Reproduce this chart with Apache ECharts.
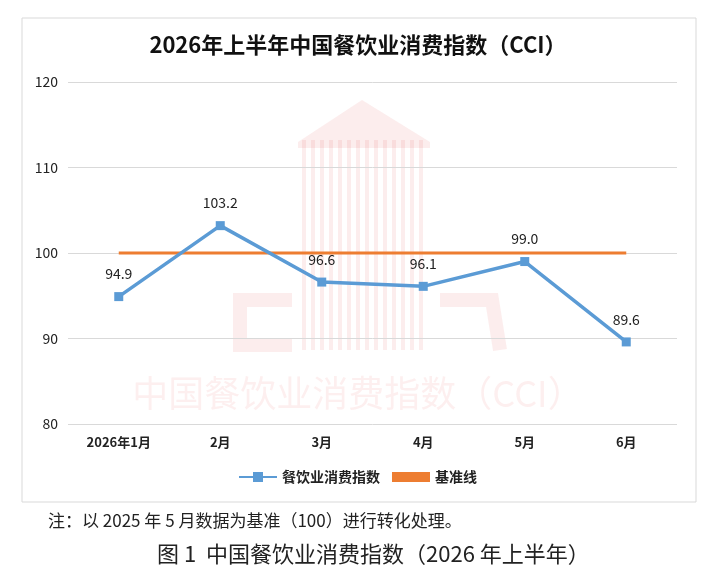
<!DOCTYPE html>
<html>
<head>
  <meta charset="utf-8">
  <title>CCI</title>
  <script src="https://cdn.jsdelivr.net/npm/echarts@6/dist/echarts.min.js"></script>
  <style>
    html, body { margin: 0; padding: 0; background: #fff; }
  </style>
</head>
<body>
  <div id="main" style="width: 716px;height:580px;"></div>
  <script type="text/javascript">
    var months = ['2026年1月', '2月', '3月', '4月', '5月', '6月'];
    var cciValues = [94.9, 103.2, 96.6, 96.1, 99.0, 89.6];
    var baseValues = [100, 100, 100, 100, 100, 100];

    var myChart = echarts.init(document.getElementById('main'));

    var font = '"Noto Sans CJK SC", "Noto Sans", sans-serif';
    var wm = 'rgba(228,80,80,0.10)';

    // 水印：楼形竖条
    var stripes = [];
    for (var i = 0; i < 14; i++) {
      stripes.push({
        type: 'rect',
        shape: { x: 302 + i * 9, y: 140, width: 4, height: 210 },
        style: { fill: wm },
        silent: true,
        z: -1
      });
    }

    var option = {
      backgroundColor: '#fff',
      animation: false,
      textStyle: { fontFamily: font },
      title: {
        text: '2026年上半年中国餐饮业消费指数（CCI）',
        left: 'center',
        top: 29,
        textStyle: { fontSize: 22, fontWeight: 'bold', color: '#111', fontFamily: font }
      },
      grid: { left: 68, right: 39, top: 82, bottom: 156, outerBoundsMode: 'none' },
      legend: {
        bottom: 91,
        left: 'center',
        itemWidth: 38,
        itemHeight: 10,
        itemGap: 12,
        textStyle: { fontSize: 14, fontWeight: 'bold', color: '#222', fontFamily: font },
        data: [
          { name: '餐饮业消费指数', icon: 'path://M0,4 L14,4 L14,0 L24,0 L24,4 L38,4 L38,6 L24,6 L24,10 L14,10 L14,6 L0,6 Z' },
          { name: '基准线', icon: 'rect', itemStyle: { color: '#ED7D31' } }
        ]
      },
      xAxis: {
        type: 'category',
        data: months,
        boundaryGap: true,
        axisLine: { show: false },
        axisTick: { show: false },
        axisLabel: { fontSize: 13, fontWeight: 'bold', color: '#222', margin: 12 }
      },
      yAxis: {
        type: 'value',
        min: 80,
        max: 120,
        interval: 10,
        axisLine: { show: false },
        axisTick: { show: false },
        axisLabel: { fontSize: 14, color: '#222', margin: 10, align: 'right' },
        splitLine: { lineStyle: { color: '#d9d9d9', width: 1 } }
      },
      series: [
        {
          name: '基准线',
          type: 'line',
          data: baseValues,
          symbol: 'none',
          color: '#ED7D31',
          lineStyle: { width: 3, color: '#ED7D31' },
          z: 2
        },
        {
          name: '餐饮业消费指数',
          type: 'line',
          data: cciValues,
          symbol: 'rect',
          symbolSize: 9,
          color: '#5B9BD5',
          lineStyle: { width: 3.5, color: '#5B9BD5' },
          itemStyle: { color: '#5B9BD5' },
          label: {
            show: true,
            position: 'top',
            distance: 11,
            fontSize: 14,
            color: '#222',
            formatter: function (p) { return p.value.toFixed(1); }
          },
          z: 3
        }
      ],
      graphic: [
        {
          type: 'rect',
          shape: { x: 22, y: 18, width: 674, height: 484 },
          style: { fill: 'none', stroke: '#d9d9d9', lineWidth: 1 },
          silent: true,
          z: -1
        },
        // 水印：楼顶
        {
          type: 'polygon',
          shape: { points: [[298, 142], [362, 100], [430, 142], [430, 148], [298, 148]] },
          style: { fill: wm },
          silent: true,
          z: -1
        },
        // 水印：C
        {
          type: 'polyline',
          shape: { points: [[292, 300], [240, 300], [240, 345], [292, 345]] },
          style: { stroke: wm, lineWidth: 14, fill: 'none' },
          silent: true,
          z: -1
        },
        // 水印：A
        {
          type: 'polyline',
          shape: { points: [[440, 300], [492, 300], [500, 350]] },
          style: { stroke: wm, lineWidth: 14, fill: 'none' },
          silent: true,
          z: -1
        },
        {
          type: 'text',
          left: 'center',
          top: 375,
          style: { text: '中国餐饮业消费指数（CCI）', fontSize: 36, fontFamily: font, fill: 'rgba(228,80,80,0.09)' },
          silent: true,
          z: -1
        },
        {
          type: 'group',
          silent: true,
          children: stripes
        },
        {
          type: 'text',
          left: 48,
          top: 512,
          style: { text: '注：以 2025 年 5 月数据为基准（100）进行转化处理。', fontSize: 17, fontFamily: font, fill: '#222' }
        },
        {
          type: 'text',
          left: 157,
          top: 543,
          style: { text: '图 1  中国餐饮业消费指数（2026 年上半年）', fontSize: 22, fontFamily: font, fill: '#222' }
        }
      ]
    };

    myChart.setOption(option);
  </script>
</body>
</html>
